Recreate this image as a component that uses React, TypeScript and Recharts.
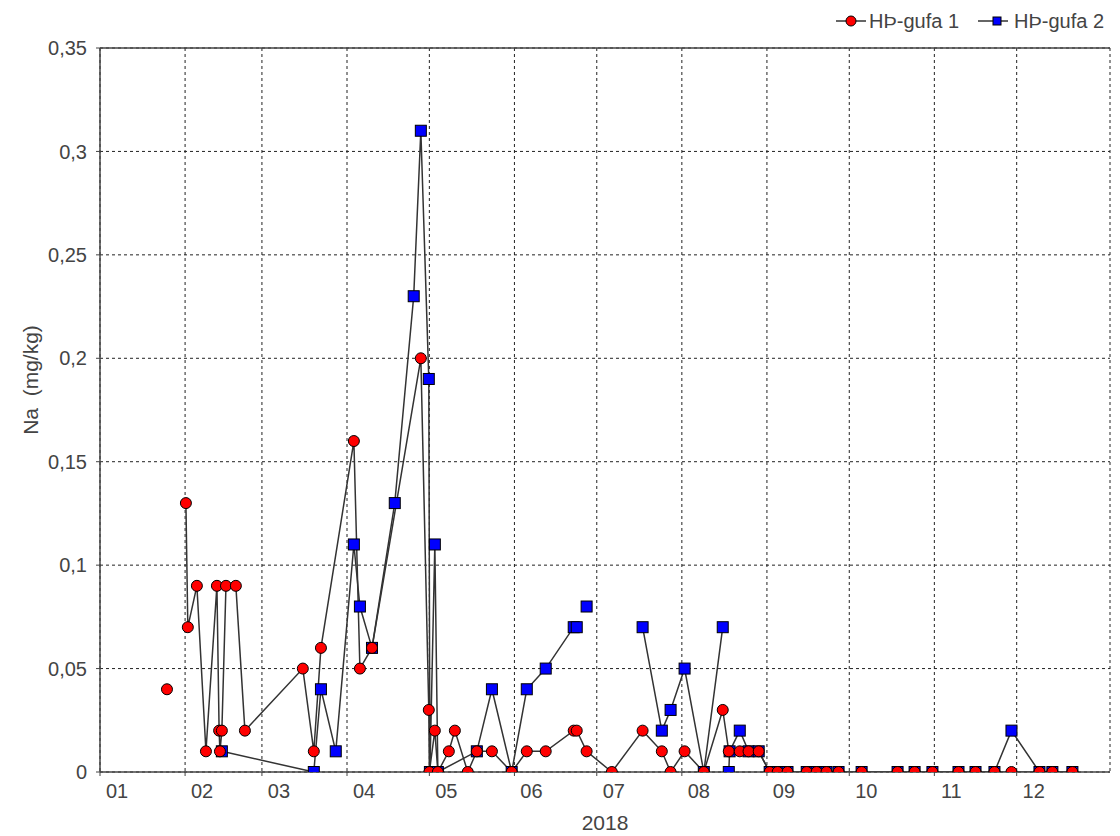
import React from 'react'
import { LineChart, Line, XAxis, YAxis, CartesianGrid, ReferenceLine } from 'recharts'

// x = days since 1 Jan 2018, null = gap in the series
const hp1Days = [
  24.4, 28, 31.3, 32.0, 35.3, 38.6, 42.6, 43.4, 43.7, 44.4, 45.9, 49.5, 52.8,
  73.9, 77.9, 80.5, 92.5, 94.7, 99.1, 116.9, 119.8, 120.0, 122.0, 123.1, 127.1,
  129.3, 134.0, 137.3, 142.8, 150.0, 155.5, 162.4, 172.6, 173.7, 177.3, 186.5,
  197.7, 204.7, 207.9, 213.0, 220.0, 226.9, 229.1, 233.1, 236.3, 240.0, 244.0,
  246.9, 250.5, 257.5, 261.1, 264.7, 269.1, 277.5, 290.6, 296.8, 303.3, 312.8,
  319.0, 325.9, 332.1, 342.3, 347.0, 354.3,
]
const hp1Values = [
  0.04, null, 0.13, 0.07, 0.09, 0.01, 0.09, 0.02, 0.01, 0.02, 0.09, 0.09, 0.02,
  0.05, 0.01, 0.06, 0.16, 0.05, 0.06, 0.2, 0.03, 0, 0.02, 0, 0.01,
  0.02, 0, 0.01, 0.01, 0, 0.01, 0.01, 0.02, 0.02, 0.01, 0,
  0.02, 0.01, 0, 0.01, 0, 0.03, 0.01, 0.01, 0.01, 0.01, 0,
  0, 0, 0, 0, 0, 0, 0, 0, 0, 0, 0,
  0, 0, 0, 0, 0, 0,
]

const hp2Days = [
  44.4, 77.9, 80.5, 85.9, 92.5, 94.7, 99.1, 107.4, 114.3, 116.9, 119.8, 120.2,
  122.0, 123.1, 137.3, 142.8, 150.0, 155.5, 162.4, 172.6, 173.7, 175.5, 177.3,
  190, 197.7, 204.7, 207.9, 213.0, 220.0, 226.9, 228, 229.1, 229.4, 233.1,
  236.3, 240.0, 244.0, 246.9, 250.5, 257.5, 261.1, 264.7, 269.1, 277.5, 290.6,
  296.8, 303.3, 312.8, 319.0, 325.9, 332.1, 342.3, 347.0, 354.3,
]
const hp2Values = [
  0.01, 0, 0.04, 0.01, 0.11, 0.08, 0.06, 0.13, 0.23, 0.31, 0.19, 0,
  0.11, 0, 0.01, 0.04, 0, 0.04, 0.05, 0.07, 0.07, null, 0.08,
  null, 0.07, 0.02, 0.03, 0.05, 0, 0.07, null, 0, 0.01, 0.02,
  0.01, 0.01, 0, 0, 0, 0, 0, 0, 0, 0, 0,
  0, 0, 0, 0, 0, 0.02, 0, 0, 0,
]

const monthStarts = [0, 31, 59, 90, 120, 151, 181, 212, 243, 273, 304, 334]
const monthLabels = ['01', '02', '03', '04', '05', '06', '07', '08', '09', '10', '11', '12']
const yTicks = [0, 0.05, 0.1, 0.15, 0.2, 0.25, 0.3, 0.35]

const hp1Data = hp1Days.map((d, i) => ({ day: d, na: hp1Values[i] }))
const hp2Data = hp2Days.map((d, i) => ({ day: d, na: hp2Values[i] }))

const FONT = '"Liberation Sans", Arial, sans-serif'
const TEXT = '#444'

const MonthTick = (props: any) => {
  const { x, y, payload } = props
  const i = monthStarts.indexOf(payload.value)
  return (
    <text x={x + 17} y={y + 16} textAnchor="middle" fontSize={20} fill={TEXT} fontFamily={FONT}>
      {monthLabels[i]}
    </text>
  )
}

const redDot = (p: any) => {
  if (p.cy == null || p.value == null) return <g key={`r${p.index}`} />
  return <circle key={`r${p.index}`} cx={p.cx} cy={p.cy} r={5.5} fill="#ff0000" stroke="#000" strokeWidth={1} />
}

const blueDot = (p: any) => {
  if (p.cy == null || p.value == null) return <g key={`b${p.index}`} />
  return <rect key={`b${p.index}`} x={p.cx - 5.5} y={p.cy - 5.5} width={11} height={11} fill="#0000ff" stroke="#000" strokeWidth={1} />
}

const XLabel = () => (
  <text x={605} y={830} textAnchor="middle" fontSize={21} fill={TEXT} fontFamily={FONT}>
    2018
  </text>
)

const YLabel = () => (
  <text
    x={0}
    y={0}
    transform="translate(38, 380) rotate(-90)"
    textAnchor="middle"
    fontSize={21}
    fill={TEXT}
    fontFamily={FONT}
  >
    {'Na\u00a0 (mg/kg)'}
  </text>
)

function Legend() {
  return (
    <svg width={1120} height={44} style={{ position: 'absolute', left: 0, top: 0 }}>
      <g fontFamily={FONT} fontSize={20} fill={TEXT}>
        <line x1={836} y1={21} x2={866} y2={21} stroke="#333" strokeWidth={1.5} />
        <circle cx={851} cy={21} r={5} fill="#ff0000" stroke="#000" strokeWidth={1} />
        <text x={869} y={28}>HÞ-gufa 1</text>
        <line x1={978} y1={21} x2={1008} y2={21} stroke="#333" strokeWidth={1.5} />
        <rect x={993} y={17} width={8} height={8} fill="#0000ff" stroke="#000" strokeWidth={1} />
        <text x={1014} y={28}>HÞ-gufa 2</text>
      </g>
    </svg>
  )
}

export default function App() {
  return (
    <div style={{ position: 'absolute', left: 0, top: 0, width: 1120, height: 836, background: '#fff', fontFamily: FONT }}>
      <LineChart width={1120} height={836} margin={{ top: 48, right: 10, bottom: 0, left: 0 }}>
        <CartesianGrid stroke="#222" strokeDasharray="3 3" strokeWidth={1} />
        <XAxis
          type="number"
          dataKey="day"
          domain={[0, 368]}
          ticks={monthStarts}
          interval={0}
          allowDataOverflow
          height={64}
          tickSize={4}
          tickMargin={6}
          stroke="#444"
          axisLine={{ stroke: '#444', strokeWidth: 1.5 }}
          tick={<MonthTick />}
          label={<XLabel />}
        />
        <YAxis
          type="number"
          domain={[0, 0.35]}
          ticks={yTicks}
          interval={0}
          allowDataOverflow
          width={100}
          tickSize={4}
          tickMargin={9}
          stroke="#444"
          axisLine={{ stroke: '#444', strokeWidth: 1.5 }}
          tick={{ fontSize: 20, fill: TEXT, fontFamily: FONT }}
          tickFormatter={(v: number) => String(v).replace('.', ',')}
          label={<YLabel />}
        />
        <ReferenceLine y={0.35} stroke="#444" strokeWidth={1.5} />
        <Line
          data={hp2Data}
          dataKey="na"
          stroke="#333"
          strokeWidth={1.5}
          dot={blueDot}
          activeDot={false}
          connectNulls={false}
          isAnimationActive={false}
        />
        <Line
          data={hp1Data}
          dataKey="na"
          stroke="#333"
          strokeWidth={1.5}
          dot={redDot}
          activeDot={false}
          connectNulls={false}
          isAnimationActive={false}
        />
      </LineChart>
      <Legend />
    </div>
  )
}
